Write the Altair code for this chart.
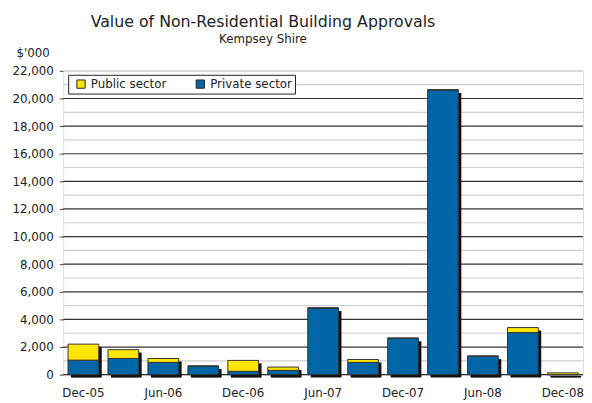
import altair as alt
import pandas as pd

quarters = ["Dec-05", "Mar-06", "Jun-06", "Sep-06", "Dec-06", "Mar-07", "Jun-07",
            "Sep-07", "Dec-07", "Mar-08", "Jun-08", "Sep-08", "Dec-08"]
private_sector = [1050, 1170, 890, 620, 240, 310, 4830, 890, 2640, 20620, 1340, 3050, 0]
public_sector = [1160, 640, 280, 0, 790, 240, 0, 210, 0, 0, 0, 360, 130]
x_labels = ["Dec-05", "Jun-06", "Dec-06", "Jun-07", "Dec-07", "Jun-08", "Dec-08"]
y_labels = list(range(0, 23000, 2000))
grid_lines = list(range(0, 23000, 1000))

FONT = "DejaVu Sans"

rows = []
for q, pv, pb in zip(quarters, private_sector, public_sector):
    rows.append({"quarter": q, "sector": "Private sector", "value": pv, "ord": 0})
    rows.append({"quarter": q, "sector": "Public sector", "value": pb, "ord": 1})
df = pd.DataFrame(rows)
tot = pd.DataFrame({"quarter": quarters,
                    "total": [a + b for a, b in zip(private_sector, public_sector)]})

xscale = alt.Scale(domain=quarters, paddingInner=0.23, paddingOuter=0.12)
yscale = alt.Scale(domain=[0, 22000], nice=False)

xaxis = alt.Axis(values=x_labels, labelAngle=0, ticks=False, domain=False, grid=False,
                 labelPadding=13, labelFontSize=12, labelFont=FONT, labelColor="#222", title=None)
yaxis = alt.Axis(
    values=y_labels, grid=False, domain=False, tickSize=4, tickColor="#444",
    format=",.0f", labelOverlap=False,
    labelPadding=6, labelFontSize=12, labelFont=FONT, labelColor="#222",
    title="$'000", titleAngle=0, titleX=-48, titleY=-19, titleAlign="left",
    titleBaseline="middle", titleFontWeight="normal", titleFontSize=12, titleFont=FONT,
    titleColor="#222")

grid = alt.Chart(pd.DataFrame({"v": grid_lines})).mark_rule().encode(
    y=alt.Y("v:Q", scale=yscale, axis=yaxis, title="$'000"),
    color=alt.condition("datum.v % 2000 === 0 && datum.v < 22000", alt.value("#333"), alt.value("#cfcfcf")),
    strokeWidth=alt.value(1.2),
)

shadow = alt.Chart(tot).mark_bar(color="#111", xOffset=3, yOffset=3, y2Offset=-3).encode(
    x=alt.X("quarter:N", scale=xscale, axis=xaxis, sort=quarters),
    y=alt.Y("total:Q", scale=yscale, axis=yaxis, title="$'000"),
)

bars = alt.Chart(df).mark_bar(stroke="#333", strokeWidth=1).encode(
    x=alt.X("quarter:N", scale=xscale, axis=xaxis, sort=quarters),
    y=alt.Y("value:Q", scale=yscale, stack="zero", axis=yaxis, title="$'000"),
    color=alt.Color("sector:N",
                    scale=alt.Scale(domain=["Public sector", "Private sector"],
                                    range=["#FFE600", "#0066A8"]),
                    legend=alt.Legend(orient="none", legendX=5, legendY=4, direction="horizontal",
                                      title=None, fillColor="white", strokeColor="#222",
                                      padding=3, columnPadding=24, symbolType="square",
                                      symbolSize=70, symbolStrokeColor="#222",
                                      symbolStrokeWidth=1, labelFontSize=12, labelFont=FONT,
                                      labelColor="#222", symbolOffset=4)),
    order=alt.Order("ord:Q"),
)

chart = alt.layer(grid, shadow, bars).properties(
    width=527, height=308,
    title=alt.TitleParams("Value of Non-Residential Building Approvals",
                          subtitle="Kempsey Shire", font=FONT, fontSize=16, fontWeight="normal",
                          subtitleFont=FONT, subtitleFontSize=12, color="#222",
                          subtitleColor="#222", anchor="middle", offset=1, subtitlePadding=4,
                          dx=-61),
    autosize=alt.AutoSizeParams(type="none"),
    padding={"left": 56, "top": 61, "right": 1, "bottom": 26},
).configure_view(stroke=None).configure(background="white")

chart.save("out.html", embed_options={"renderer": "svg", "actions": False})
